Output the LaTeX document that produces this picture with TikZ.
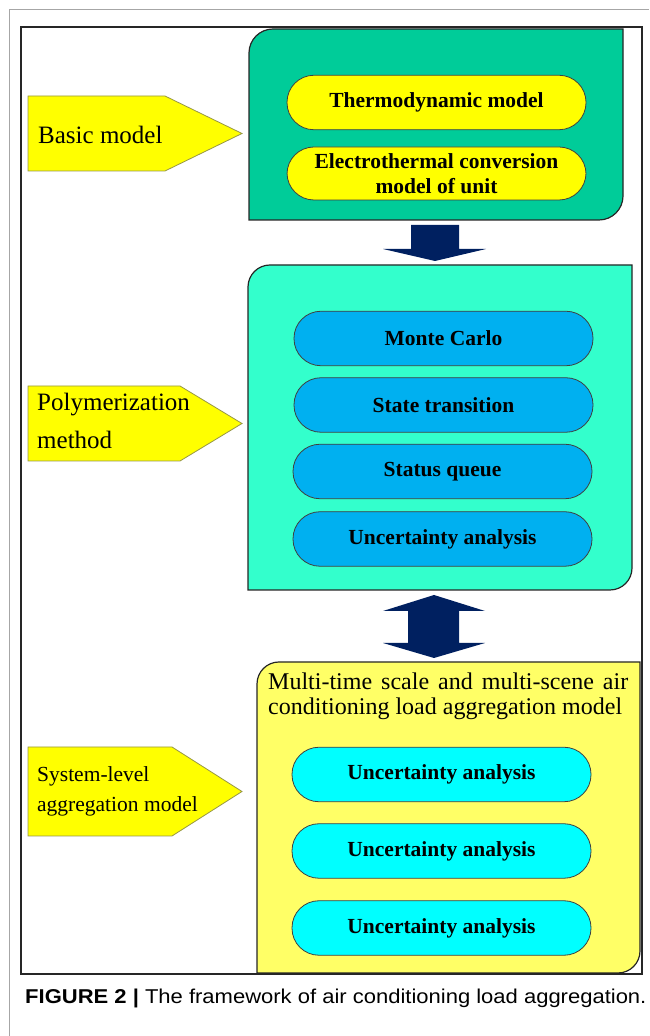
\documentclass[tikz,border=0pt]{standalone}
\usepackage{fontspec}
\setmainfont{Liberation Serif}
\newfontfamily\capsans[FakeStretch=1.1]{Liberation Sans}
\definecolor{greenbox}{RGB}{0,204,153}
\definecolor{cyanbox}{RGB}{51,255,204}
\definecolor{bluepill}{RGB}{0,176,240}
\definecolor{cyanpill}{RGB}{0,255,255}
\definecolor{yellowbox}{RGB}{255,255,102}
\definecolor{labelyellow}{RGB}{255,255,0}
\definecolor{labeledge}{RGB}{150,150,70}
\definecolor{navyarrow}{RGB}{0,32,96}
\begin{document}
\begin{tikzpicture}[x=1pt,y=1pt,
  pill/.style={draw=black!75, line width=0.8pt, rounded corners=27pt,
    minimum width=299pt, minimum height=54.5pt, inner sep=0pt,
    font=\fontsize{21.5}{25}\selectfont\bfseries, align=center},
  bigbox/.style={draw=black!85, line width=1.2pt},
  labelarrow/.style={fill=labelyellow, draw=labeledge, line width=0.8pt},
  labeltext/.style={anchor=base west, inner sep=0pt},
  blockarrow/.style={fill=navyarrow, draw=none}
]
\useasboundingbox (0,0) rectangle (649,1036);
% outer gray page frame
\draw[gray!70, line width=1pt] (9,0) -- (9,1026) -- (649,1026);
% inner black frame
\draw[black!85, line width=1.2pt] (21,62) rectangle (642,1009);

% ---------- basic model block ----------
\path[bigbox, fill=greenbox] (249,816) -- (249,983) arc[start angle=180, end angle=90, radius=24]
  -- (623,1007) -- (623,840) arc[start angle=0, end angle=-90, radius=24] -- cycle;
\node[pill, fill=labelyellow] (thermo) at (436.5,933.5) {Thermodynamic model};
\node[pill, fill=labelyellow, minimum height=53pt] (electro) at (436.5,862.5) {Electrothermal conversion\\model of unit};

% down arrow
\path[blockarrow] (411,811) -- (459,811) -- (459,787) -- (486,787) -- (435,775) -- (383,787) -- (411,787) -- cycle;

% ---------- polymerization block ----------
\path[bigbox, fill=cyanbox] (248,446) -- (248,749) arc[start angle=180, end angle=90, radius=22]
  -- (632,771) -- (632,468) arc[start angle=0, end angle=-90, radius=22] -- cycle;
\node[pill, fill=bluepill] (monte) at (443.5,697.5) {Monte Carlo};
\node[pill, fill=bluepill] (state) at (443.5,631) {State transition};
\node[pill, fill=bluepill] (status) at (442.5,564.5) {Status queue};
\node[pill, fill=bluepill] (uncA) at (442.5,497) {Uncertainty analysis};

% double arrow
\path[blockarrow] (434,441) -- (485,425) -- (459,425) -- (459,393) -- (485,393) -- (434,378)
  -- (383,393) -- (408,393) -- (408,425) -- (383,425) -- cycle;

% ---------- system-level block ----------
\path[bigbox, fill=yellowbox] (257,63) -- (257,352) arc[start angle=180, end angle=90, radius=22]
  -- (640,374) -- (640,85) arc[start angle=0, end angle=-90, radius=22] -- cycle;
\node[labeltext, font=\fontsize{24}{25}\selectfont] (title1) at (268,346)
  {\makebox[360pt][s]{Multi-time scale and multi-scene air}};
\node[labeltext, font=\fontsize{24}{25}\selectfont] (title2) at (268,321)
  {conditioning load aggregation model};
\node[pill, fill=cyanpill] (uncB) at (441.5,261.5) {Uncertainty analysis};
\node[pill, fill=cyanpill] (uncC) at (441.5,185) {Uncertainty analysis};
\node[pill, fill=cyanpill] (uncD) at (441.5,108) {Uncertainty analysis};

% ---------- left label arrows ----------
\path[labelarrow] (28,865) -- (28,940) -- (165,940) -- (242,902.5) -- (165,865) -- cycle;
\node[labeltext, font=\fontsize{25}{30}\selectfont] (basic) at (38,892) {Basic model};

\path[labelarrow] (28,575) -- (28,650) -- (180,650) -- (242,612.5) -- (180,575) -- cycle;
\node[labeltext, font=\fontsize{25}{30}\selectfont] (poly1) at (37,625) {Polymerization};
\node[labeltext, font=\fontsize{25}{30}\selectfont] (poly2) at (37,587) {method};

\path[labelarrow] (28,200) -- (28,289) -- (172,289) -- (242,244.5) -- (172,200) -- cycle;
\node[labeltext, font=\fontsize{21.5}{25}\selectfont] (sys1) at (37,254) {System-level};
\node[labeltext, font=\fontsize{21.5}{25}\selectfont] (sys2) at (37,224) {aggregation model};

% ---------- caption ----------
\node[labeltext, font=\fontsize{20}{22}\selectfont\capsans] (caption) at (25,32)
  {\textbf{FIGURE 2 |} The framework of air conditioning load aggregation.};
\end{tikzpicture}
\end{document}
